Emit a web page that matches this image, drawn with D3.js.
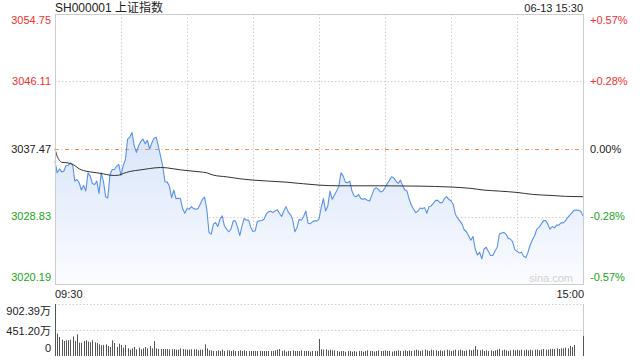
<!DOCTYPE html>
<html><head><meta charset="utf-8">
<script src="https://cdn.jsdelivr.net/npm/d3@7/dist/d3.min.js"></script>
<style>
html,body{margin:0;padding:0;background:#fff;}
text{font-family:"Liberation Sans",Arial,"Noto Sans CJK SC",sans-serif;}
</style></head>
<body><svg id="c" width="640" height="360"></svg>
<script>
const titleText = "SH000001 上证指数";
const dateText = "06-13 15:30";
const timeLabels = ["09:30", "15:00"];
const preClose = 3037.47;
const priceTicks = [3054.75, 3046.11, 3037.47, 3028.83, 3020.19];
const pctTicks = ["+0.57%", "+0.28%", "0.00%", "-0.28%", "-0.57%"];
const volTicks = [902.39, 451.20, 0];
const volTickLabels = ["902.39万", "451.20万", "0"];

const price = [
3035.90,3034.42,3034.92,3034.54,3034.63,3035.35,3035.39,3035.69,3035.48,3033.36,
3033.57,3033.15,3032.22,3032.81,3032.09,3034.42,3034.00,3033.06,3032.93,3033.36,
3031.79,3034.42,3033.36,3031.37,3031.20,3034.21,3034.84,3034.84,3035.26,3035.48,
3034.08,3035.35,3036.11,3038.74,3038.99,3039.58,3037.89,3037.04,3037.89,3038.44,
3038.74,3038.14,3038.57,3037.47,3038.23,3038.86,3038.99,3037.80,3036.53,3035.26,
3033.27,3033.23,3032.72,3031.24,3032.22,3031.12,3031.16,3031.12,3029.85,3029.25,
3029.85,
3029.75,3030.09,3029.84,3029.75,3029.84,3030.39,3031.03,3031.32,3029.75,3026.79,
3026.58,3027.85,3028.06,3027.55,3028.48,3028.91,3027.64,3027.21,3026.88,3027.21,
3028.27,3028.27,3027.43,3026.37,3027.64,3028.57,3028.36,3028.36,3027.43,3026.92,
3027.00,3028.23,3028.27,3028.32,3028.48,3029.12,3029.42,3029.54,3029.33,3029.54,
3029.71,3029.25,3028.83,3029.54,3030.09,3029.42,3029.08,3028.48,3026.88,3027.43,
3028.48,3028.36,3028.83,3029.54,3027.97,3027.89,3028.15,3028.27,3028.27,3028.50,
3029.96,3031.12,3029.54,3030.18,3032.08,3031.03,3031.54,3032.08,3032.72,3034.42,
3034.00,3033.23,3033.15,3033.36,3032.08,3031.45,3031.37,3031.66,3031.12,3031.03,
3031.12,3030.90,3030.82,3031.54,3032.30,3032.51,3032.30,3031.96,3032.08,3032.51,
3033.02,3033.48,3033.91,3033.78,3033.36,3033.06,3033.48,3032.81,3032.22,3032.08,
3031.03,3030.27,3029.75,3029.33,3029.54,3029.92,3029.84,3029.96,3029.25,3030.09,
3030.18,3030.52,3030.90,3030.90,3030.60,3030.60,3031.12,3031.37,3031.03,3030.82,
3030.39,3029.12,3028.61,3028.27,3027.85,3027.13,3026.88,3026.37,3025.78,3026.28,
3024.67,3023.91,3024.25,3023.41,3024.67,3024.89,3024.34,3023.83,3023.83,3024.42,
3024.89,3026.58,3026.71,3026.79,3026.58,3026.03,3025.95,3025.61,3024.59,3024.38,
3024.17,3024.25,3023.74,3023.57,3024.25,3025.18,3025.86,3026.37,3027.21,3027.43,
3027.85,3028.27,3028.32,3027.85,3027.21,3027.55,3027.38,3027.72,3027.72,3028.02,
3028.02,3028.27,3028.70,3028.99,3029.33,3029.63,3029.67,3029.63,3029.50,3028.91
];

const avgIndex = [0,1,2,3,6,7,9,11,13,16,19,22,25,27,29,31,34,39,43,48,51,54,57,60,66,69,72,78,84,90,97,105,113,120,129,150,165,180,189,195,202,210,217,225,232,240];
const avgValue = [3037.47,3036.53,3036.03,3035.77,3035.69,3035.60,3035.35,3034.93,3034.71,3034.54,3034.42,3034.29,3034.12,3034.08,3034.12,3034.33,3034.59,3034.80,3034.97,3035.10,3035.05,3034.93,3034.80,3034.71,3034.54,3034.42,3034.12,3033.91,3033.66,3033.49,3033.36,3033.23,3033.02,3032.85,3032.76,3032.76,3032.72,3032.60,3032.43,3032.21,3032.08,3031.91,3031.66,3031.53,3031.41,3031.36];

const volume = [
902.39,388,330,283,260,272,272,283,341,260,
376,231,231,260,272,249,237,272,237,226,
202,185,191,202,174,156,272,226,156,214,
191,145,191,133,110,133,156,116,145,116,
133,156,133,174,133,260,133,121,121,121,
121,121,116,116,121,110,110,133,121,116,
110,110,116,116,116,98,110,110,202,133,
98,98,87,87,98,87,110,87,98,98,
87,98,87,87,98,87,98,87,87,87,
87,87,87,87,87,87,87,87,87,87,
98,110,121,87,98,75,87,87,98,87,
87,87,98,87,87,87,75,87,87,87,
295,
116,110,116,98,110,98,98,
87,75,87,87,75,87,87,75,87,75,87,87,75,
87,98,87,87,75,87,98,87,87,98,87,87,75,87,87,98,87,87,98,87,
98,87,98,110,98,87,98,110,98,87,110,98,98,87,98,87,98,110,98,87,
98,110,98,110,98,87,98,110,98,110,
174,
110,98,110,87,98,87,98,87,98,110,
121,
98,110,98,87,98,110,98,110,98,110,98,110,98,
110,98,110,110,98,110,121,110,110,121,
121,121,133,121,133,133,145,133,174,156,191,
0,0,0,
347
];

const svg = d3.select("#c");
const L = 55, R = 584, T = 14, B = 284;
const x = d3.scaleLinear().domain([0, 240]).range([L, 583]);
const y = d3.scaleLinear().domain([3020.19, 3054.75]).range([B, T]);
const vy = d3.scaleLinear().domain([0, 902.39]).range([356, 304]);

const red = "#f23030", green = "#1aa31a", dark = "#222";
const gridC = "#cfcfcf";

const defs = svg.append("defs");
const g1 = defs.append("linearGradient").attr("id","fillg").attr("x1",0).attr("y1",0).attr("x2",0).attr("y2",1);
g1.append("stop").attr("offset","0%").attr("stop-color","#d8e5fa");
g1.append("stop").attr("offset","100%").attr("stop-color","#fbfcff");

// horizontal grid (price), excluding the pre-close line
svg.append("g").selectAll("line").data([priceTicks[1], priceTicks[3]]).join("line")
  .attr("x1", L).attr("x2", R)
  .attr("y1", d => Math.round(y(d)) + 0.5).attr("y2", d => Math.round(y(d)) + 0.5)
  .attr("stroke", gridC).attr("stroke-dasharray", "1.5,2");
// vertical grid
const vg = d3.range(1, 8).map(k => k * 30);
svg.append("g").selectAll("line").data(vg).join("line")
  .attr("x1", d => Math.round(x(d)) + 0.5).attr("x2", d => Math.round(x(d)) + 0.5)
  .attr("y1", T).attr("y2", B)
  .attr("stroke", gridC).attr("stroke-dasharray", "1.5,2");

// area
const area = d3.area().x((d, i) => x(i)).y0(B).y1(d => y(d));
svg.append("path").datum(price).attr("d", area).attr("fill", "url(#fillg)");

// preclose dashed line (gray dots with orange dashes)
const pcY = Math.round(y(preClose)) + 0.5;
svg.append("line").attr("x1", L).attr("x2", R).attr("y1", pcY).attr("y2", pcY)
  .attr("stroke", gridC).attr("stroke-dasharray", "1.5,8.5").attr("stroke-dashoffset", -6);
svg.append("line").attr("x1", L).attr("x2", R).attr("y1", pcY).attr("y2", pcY)
  .attr("stroke", "#f39048").attr("stroke-dasharray", "4,6");

// price line
const line = d3.line().x((d, i) => x(i)).y(d => y(d));
svg.append("path").datum(price).attr("d", line).attr("fill", "none")
  .attr("stroke", "#5a91e8").attr("stroke-width", 1.1).attr("stroke-linejoin", "round");

// avg line
const avgPts = avgIndex.map((d, i) => [d, avgValue[i]]);
svg.append("path").datum(avgPts)
  .attr("d", d3.line().x(d => x(d[0])).y(d => y(d[1])).curve(d3.curveMonotoneX))
  .attr("fill", "none").attr("stroke", "#333").attr("stroke-width", 1);

// frame
svg.append("rect").attr("x", L + 0.5).attr("y", T + 0.5).attr("width", R - L - 1).attr("height", B - T)
  .attr("fill", "none").attr("stroke", "#cccccc");

// watermark
svg.append("text").attr("x", 573).attr("y", 282).attr("text-anchor", "end")
  .attr("font-size", 11).attr("fill", "#d0d0d0").text("sina.com");

// left price labels
const lblY = (i, d) => i === 0 ? y(d) + 6 : (i === priceTicks.length - 1 ? y(d) - 7 : y(d));
const colorOf = d => d > preClose ? red : (d < preClose ? green : dark);
svg.append("g").selectAll("text").data(priceTicks).join("text")
  .attr("x", 51).attr("y", (d, i) => lblY(i, d)).attr("dy", "0.35em")
  .attr("text-anchor", "end").attr("font-size", 11).attr("fill", d => colorOf(d))
  .text(d => d.toFixed(2));
svg.append("g").selectAll("text").data(pctTicks).join("text")
  .attr("x", 590).attr("y", (d, i) => lblY(i, priceTicks[i])).attr("dy", "0.35em")
  .attr("text-anchor", "start").attr("font-size", 11).attr("fill", (d, i) => colorOf(priceTicks[i]))
  .text(d => d);

// title
svg.append("text").attr("x", 55).attr("y", 11.5).attr("font-size", 12).attr("fill", dark).text(titleText);
svg.append("text").attr("x", 583).attr("y", 11.5).attr("text-anchor", "end").attr("font-size", 11).attr("fill", dark).text(dateText);

// time labels
svg.append("text").attr("x", 55).attr("y", 297.5).attr("font-size", 11).attr("fill", dark).text(timeLabels[0]);
svg.append("text").attr("x", 584).attr("y", 297.5).attr("text-anchor", "end").attr("font-size", 11).attr("fill", dark).text(timeLabels[1]);

// volume panel grid
svg.append("g").selectAll("line").data(volTicks.slice(0, 2)).join("line")
  .attr("x1", L).attr("x2", R)
  .attr("y1", d => Math.round(vy(d)) + 0.5).attr("y2", d => Math.round(vy(d)) + 0.5)
  .attr("stroke", gridC).attr("stroke-dasharray", "1.5,2");
svg.append("line").attr("x1", L + 0.5).attr("x2", L + 0.5).attr("y1", 304).attr("y2", 356).attr("stroke", "#cccccc");
svg.append("line").attr("x1", R - 0.5).attr("x2", R - 0.5).attr("y1", 304).attr("y2", 356).attr("stroke", "#cccccc");

// volume bars
svg.append("g").selectAll("line").data(volume).join("line")
  .attr("x1", (d, i) => Math.round(x(i)) + 0.5).attr("x2", (d, i) => Math.round(x(i)) + 0.5)
  .attr("y1", vy(0)).attr("y2", d => vy(d))
  .attr("stroke", "#555").attr("stroke-width", 1);

// volume labels
const vlY = [311.5, 331, 348.5];
svg.append("g").selectAll("text").data(volTickLabels).join("text")
  .attr("x", 51).attr("y", (d, i) => vlY[i]).attr("dy", "0.35em")
  .attr("text-anchor", "end").attr("font-size", 11).attr("fill", dark).text(d => d);
</script></body></html>
